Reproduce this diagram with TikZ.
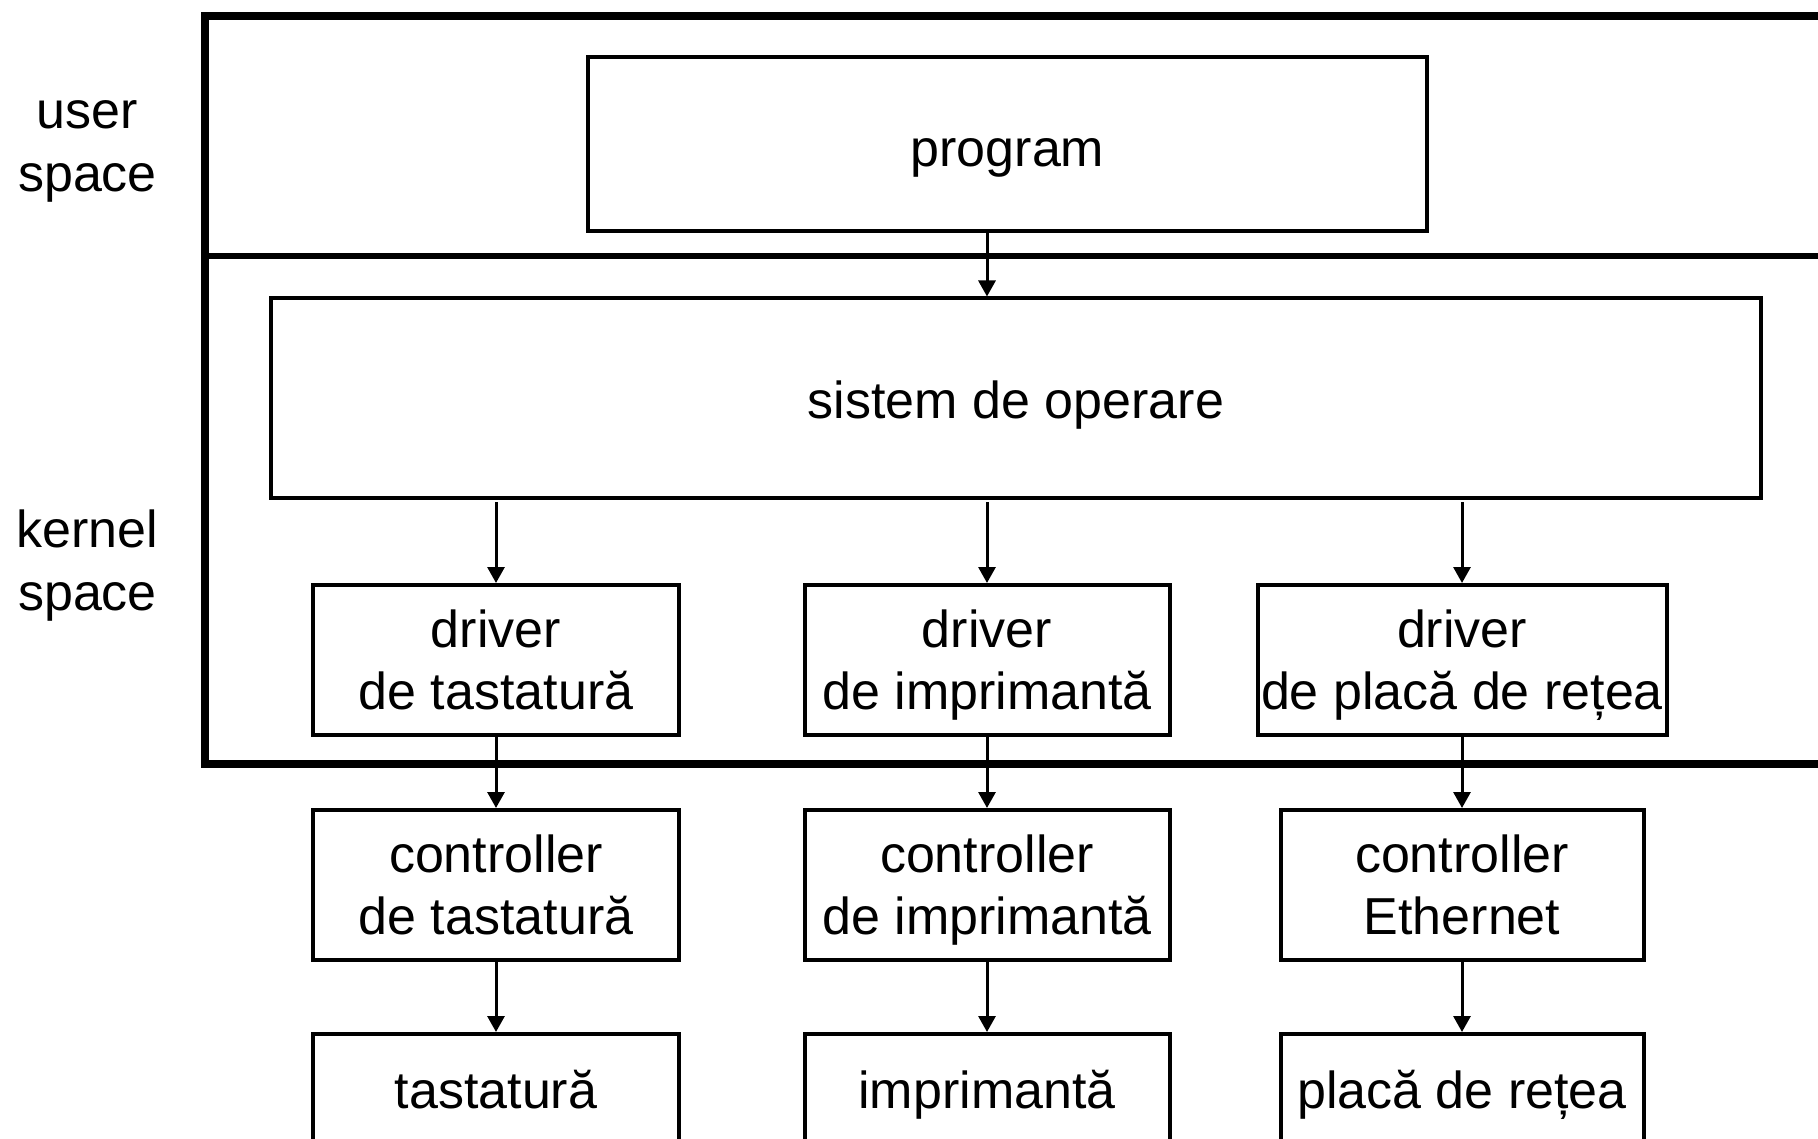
\documentclass[tikz,border=0pt]{standalone}
\usepackage{fontspec}
\setmainfont{Liberation Sans}
\usetikzlibrary{arrows.meta}
\begin{document}
\begin{tikzpicture}[x=1pt,y=-1pt,
  box/.style={draw,line width=4pt,inner sep=0pt,align=center,text depth=0pt,
              font=\fontsize{52}{62}\selectfont},
  arr/.style={line width=3pt,-{Triangle[length=16pt,width=17pt]}},
  lbl/.style={align=center,inner sep=0pt,text depth=0pt,font=\fontsize{52}{63}\selectfont},
  frame/.style={line width=8.5pt},
  divider/.style={line width=5.5pt}]
\useasboundingbox (0,0) rectangle (1818,1139);
\clip (0,0) rectangle (1818,1139);

% outer frame (user / kernel space)
\coordinate (ftl) at (205,16);
\coordinate (fbr) at (1845,764);
\draw[frame] (ftl) rectangle (fbr);
\coordinate (sepl) at (205,256);
\coordinate (sepr) at (1845,256);
\draw[divider] (sepl) -- (sepr);

% side labels
\node[lbl] (us) at (87.5,146) {user\\space};
\node[lbl] (ks) at (87.5,560.5) {kernel\\space};

% boxes
\node[box,text height=45pt,minimum width=839pt,minimum height=173.5pt] (prog) at (1007.5,144.25) {program};
\node[box,text height=42pt,minimum width=1490pt,minimum height=199pt] (os) at (1016,398) {sistem de operare};

\node[box,minimum width=366pt,minimum height=150pt] (d1) at (496,660) {driver\\de tastatură};
\node[box,minimum width=365pt,minimum height=150pt] (d2) at (987,660) {driver\\de imprimantă};
\node[box,minimum width=409pt,minimum height=150pt] (d3) at (1462,660) {driver\\de placă de rețea};

\node[box,minimum width=366pt,minimum height=150pt] (c1) at (496,885) {controller\\de tastatură};
\node[box,minimum width=365pt,minimum height=150pt] (c2) at (987,885) {controller\\de imprimantă};
\node[box,minimum width=363pt,minimum height=150pt] (c3) at (1462,885) {controller\\Ethernet};

\node[box,minimum width=366pt,minimum height=110pt] (b1) at (496,1089) {tastatură};
\node[box,minimum width=365pt,minimum height=110pt] (b2) at (987,1089) {imprimantă};
\node[box,minimum width=363pt,minimum height=110pt] (b3) at (1462,1089) {placă de rețea};

% connectors
\draw[arr] (prog.south -| d2.north) -- (os.north -| d2.north);
\draw[arr,shorten <=2.5pt] (os.south -| d1.north) -- (d1.north);
\draw[arr,shorten <=2.5pt] (os.south -| d2.north) -- (d2.north);
\draw[arr,shorten <=2.5pt] (os.south -| d3.north) -- (d3.north);
\draw[arr] (d1) -- (c1);
\draw[arr] (d2) -- (c2);
\draw[arr] (d3) -- (c3);
\draw[arr] (c1) -- (b1);
\draw[arr] (c2) -- (b2);
\draw[arr] (c3) -- (b3);
\end{tikzpicture}
\end{document}
